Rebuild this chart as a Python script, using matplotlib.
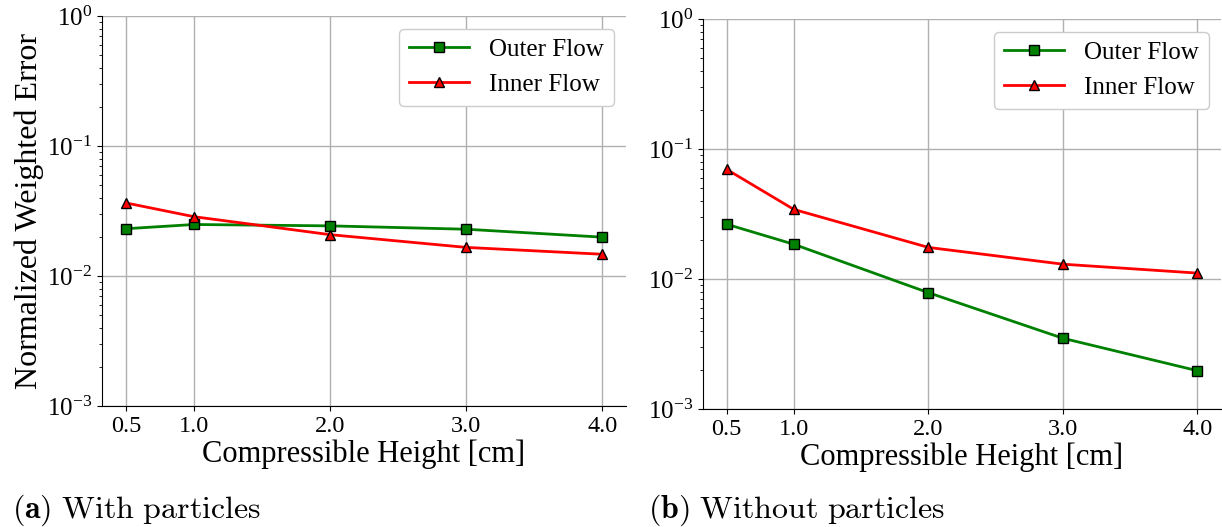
import matplotlib
matplotlib.use("Agg")
import matplotlib.pyplot as plt

# data
heights = [0.5, 1.0, 2.0, 3.0, 4.0]
tick_labels = ["0.5", "1.0", "2.0", "3.0", "4.0"]

outer_with = [0.0231, 0.0249, 0.0243, 0.0229, 0.0199]
inner_with = [0.0365, 0.0286, 0.0208, 0.0166, 0.0147]

outer_without = [0.0264, 0.0185, 0.00785, 0.0035, 0.00197]
inner_without = [0.0698, 0.0343, 0.0175, 0.0130, 0.0111]

captions = [r"$\mathbf{(a)}\ \mathrm{With\ particles}$",
            r"$\mathbf{(b)}\ \mathrm{Without\ particles}$"]

plt.rcParams["font.family"] = ["Liberation Serif", "DejaVu Serif"]
plt.rcParams["mathtext.fontset"] = "stix"

fig = plt.figure(figsize=(12.22, 5.27), dpi=100)
W, H = 1222, 527
ax1 = fig.add_axes([102 / W, 1 - 406 / H, 524 / W, 390 / H])
ax2 = fig.add_axes([703 / W, 1 - 409 / H, 518 / W, 390 / H])

for ax, outer, inner in [(ax1, outer_with, inner_with), (ax2, outer_without, inner_without)]:
    ax.plot(heights, outer, color="green", lw=2, marker="s", ms=7,
            mec="black", mfc="green", label="Outer Flow")
    ax.plot(heights, inner, color="red", lw=2, marker="^", ms=7,
            mec="black", mfc="red", label="Inner Flow")
    ax.set_yscale("log")
    ax.set_ylim(1e-3, 1e0)
    ax.set_xticks(heights)
    ax.set_xticklabels(tick_labels)
    ax.tick_params(axis="x", labelsize=17.5)
    ax.tick_params(axis="y", labelsize=18)
    ax.grid(True, color="#b0b0b0", lw=1)
    ax.grid(False, which="minor")
    ax.spines["top"].set_visible(False)
    ax.spines["right"].set_visible(False)
    ax.set_xlabel("Compressible Height [cm]", fontsize=22, labelpad=2)
    ax.legend(loc="upper right", fontsize=18, framealpha=1, handlelength=2.4)

ax1.set_ylabel("Normalized Weighted Error", fontsize=23, labelpad=2)

fig.text(12 / W, 1 - 518 / H, captions[0], fontsize=23, math_fontfamily="cm")
fig.text(648 / W, 1 - 518 / H, captions[1], fontsize=23, math_fontfamily="cm")

fig.savefig("out.png", dpi=100)
